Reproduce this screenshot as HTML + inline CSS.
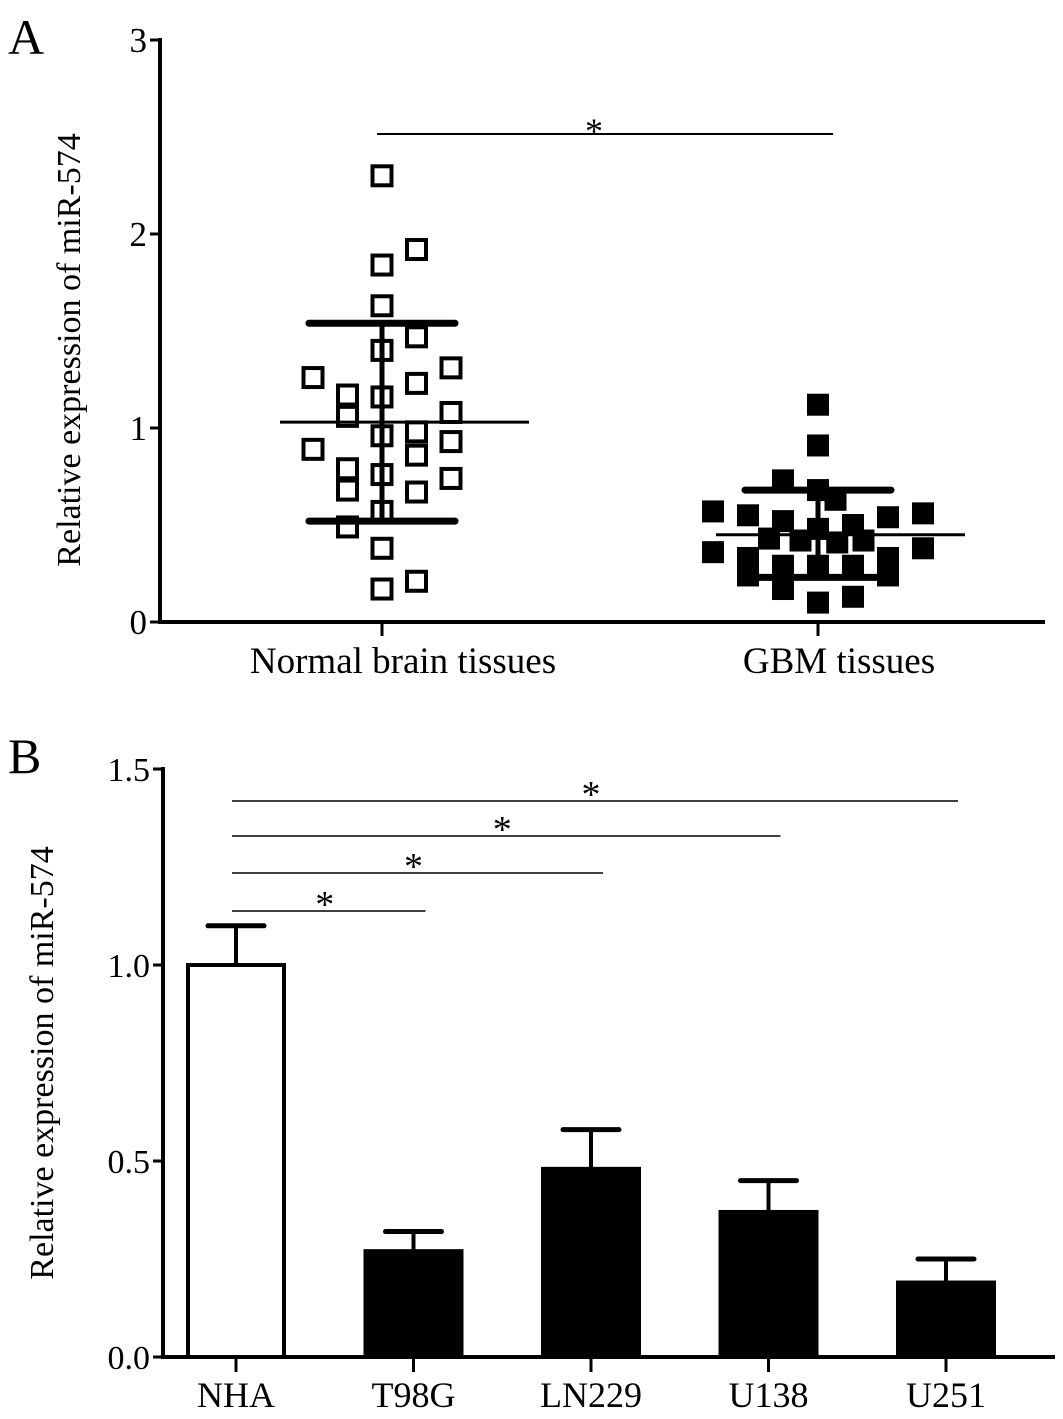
<!DOCTYPE html>
<html><head><meta charset="utf-8"><style>
html,body{margin:0;padding:0;background:#fff;}
svg{display:block;font-family:"Liberation Serif",serif;}
</style></head><body>
<svg id="c" width="1063" height="1419" viewBox="0 0 1063 1419" xmlns="http://www.w3.org/2000/svg">
<text x="8" y="54" font-size="50">A</text>
<text x="8" y="773" font-size="50">B</text>
<text transform="translate(80,350) rotate(-90)" text-anchor="middle" font-size="34">Relative expression of miR-574</text>
<text transform="translate(53,1063) rotate(-90)" text-anchor="middle" font-size="34">Relative expression of miR-574</text>
<g id="ga"></g><g id="gb"></g>
</svg>
<script>
const NS='http://www.w3.org/2000/svg';
function mk(p,t,a){const e=document.createElementNS(NS,t);for(const k in a)e.setAttribute(k,a[k]);p.appendChild(e);return e;}
// ---- Panel A data ----
const aCats=['Normal brain tissues','GBM tissues'];
const aTicks=[0,1,2,3];
const normalVals=[2.30,1.92,1.84,1.63,1.47,1.40,1.26,1.31,1.23,1.17,1.16,1.06,1.08,0.89,0.96,0.98,0.93,0.86,0.79,0.76,0.68,0.74,0.67,0.57,0.49,0.38,0.21,0.17];
const normalCol=[0,1,0,0,1,0,-2,2,1,-1,0,-1,2,-2,0,1,2,1,-1,0,-1,2,1,0,-1,0,1,0];
const gbmVals=[1.12,0.91,0.73,0.57,0.55,0.68,0.63,0.56,0.54,0.52,0.50,0.48,0.36,0.38,0.33,0.33,0.43,0.42,0.41,0.42,0.17,0.24,0.10,0.13,0.24,0.29,0.29,0.29];
const gbmCol=[0,0,-1,-3,-2,0,0.5,3,2,-1,1,0,-3,3,-2,2,-1.4,-0.5,0.55,1.3,-1,-2,0,1,2,-1,1,0];
const aMean=[1.03,0.45], aSdHi=[1.54,0.68], aSdLo=[0.52,0.23];
// ---- Panel B data ----
const bCats=['NHA','T98G','LN229','U138','U251'];
const bVals=[1.00,0.27,0.48,0.37,0.19];
const bErr=[0.10,0.05,0.10,0.08,0.06];
const bTicks=['0.0','0.5','1.0','1.5'];
const bSig=[[0,1],[0,2],[0,3],[0,4]];

const ga=document.getElementById('ga');
const aY=v=>622-v*194;
const aX=i=>[382,818][i];
const AX0=160,AX1=1045;
let e;
e=mk(ga,'line',{x1:AX0,y1:aY(3)-2,x2:AX0,y2:624,stroke:'#000','stroke-width':4});


e=mk(ga,'line',{x1:AX0-2,y1:622,x2:AX1,y2:622,stroke:'#000','stroke-width':4});


aTicks.forEach(t=>{
 mk(ga,'line',{x1:AX0-10,y1:aY(t),x2:AX0,y2:aY(t),stroke:'#000','stroke-width':3});
 e=mk(ga,'text',{x:AX0-13,y:aY(t)+12,'text-anchor':'end','font-size':35});e.textContent=t;
 
 
});
aCats.forEach((c,i)=>{
 mk(ga,'line',{x1:aX(i),y1:622,x2:aX(i),y2:636,stroke:'#000','stroke-width':3});
 e=mk(ga,'text',{x:aX(i)+21,y:673,'text-anchor':'middle','font-size':37});e.textContent=c;
 
 
});
const S=19;
normalVals.forEach((v,i)=>{
 const cx=aX(0)+normalCol[i]*34.5;
 e=mk(ga,'rect',{x:cx-S/2,y:aY(v)-S/2,width:S,height:S,fill:'#fff',stroke:'#000','stroke-width':4});
 
 
});
gbmVals.forEach((v,i)=>{
 const cx=aX(1)+gbmCol[i]*35;
 e=mk(ga,'rect',{x:cx-11,y:aY(v)-11,width:22,height:22,fill:'#000'});
 
 
});
[0,1].forEach(i=>{
 e=mk(ga,'line',{x1:aX(i)-102,y1:aY(aMean[i]),x2:aX(i)+147,y2:aY(aMean[i]),stroke:'#000','stroke-width':3});
 
 
 mk(ga,'line',{x1:aX(i)-73,y1:aY(aSdHi[i]),x2:aX(i)+73,y2:aY(aSdHi[i]),stroke:'#000','stroke-width':7,'stroke-linecap':'round'});
 mk(ga,'line',{x1:aX(i)-73,y1:aY(aSdLo[i]),x2:aX(i)+73,y2:aY(aSdLo[i]),stroke:'#000','stroke-width':7,'stroke-linecap':'round'});
 mk(ga,'line',{x1:aX(i),y1:aY(aSdHi[i]),x2:aX(i),y2:aY(aSdLo[i]),stroke:'#000','stroke-width':5});
});
e=mk(ga,'line',{x1:377,y1:134,x2:833,y2:134,stroke:'#000','stroke-width':2});


e=mk(ga,'text',{x:594,y:143,'text-anchor':'middle','font-size':36});e.textContent='*';

const gb=document.getElementById('gb');
const bY=v=>1357-v*392;
const bX=i=>236+i*177.5;
const BW=100;
e=mk(gb,'line',{x1:163,y1:bY(1.5)-2,x2:163,y2:1359,stroke:'#000','stroke-width':4});


e=mk(gb,'line',{x1:161,y1:1357,x2:1055,y2:1357,stroke:'#000','stroke-width':4});


bTicks.forEach(t=>{
 const v=parseFloat(t);
 mk(gb,'line',{x1:153,y1:bY(v),x2:163,y2:bY(v),stroke:'#000','stroke-width':3});
 e=mk(gb,'text',{x:150,y:bY(v)+12,'text-anchor':'end','font-size':34});e.textContent=t;
 
 
});
bCats.forEach((c,i)=>{
 const x=bX(i);
 mk(gb,'line',{x1:x,y1:bY(bVals[i]),x2:x,y2:bY(bVals[i]+bErr[i]),stroke:'#000','stroke-width':4});
 mk(gb,'line',{x1:x-28,y1:bY(bVals[i]+bErr[i]),x2:x+28,y2:bY(bVals[i]+bErr[i]),stroke:'#000','stroke-width':5,'stroke-linecap':'round'});
 e=mk(gb,'rect',{x:x-BW/2+2,y:bY(bVals[i]),width:BW-4,height:1357-bY(bVals[i]),fill:i===0?'#fff':'#000',stroke:'#000','stroke-width':4});
 
 
 mk(gb,'line',{x1:x,y1:1357,x2:x,y2:1372,stroke:'#000','stroke-width':3});
 e=mk(gb,'text',{x:x,y:1407,'text-anchor':'middle','font-size':36});e.textContent=c;
 
 
});
const sigY=[911,873,836,801];
bSig.forEach((p,k)=>{
 const x1=bX(p[0])-4,x2=bX(p[1])+12;
 e=mk(gb,'line',{x1:x1,y1:sigY[k],x2:x2,y2:sigY[k],stroke:'#000','stroke-width':1.5});
 
 
 e=mk(gb,'text',{x:(x1+x2)/2-4,y:sigY[k]+6,'text-anchor':'middle','font-size':38});e.textContent='*';
});
</script>
</body></html>
